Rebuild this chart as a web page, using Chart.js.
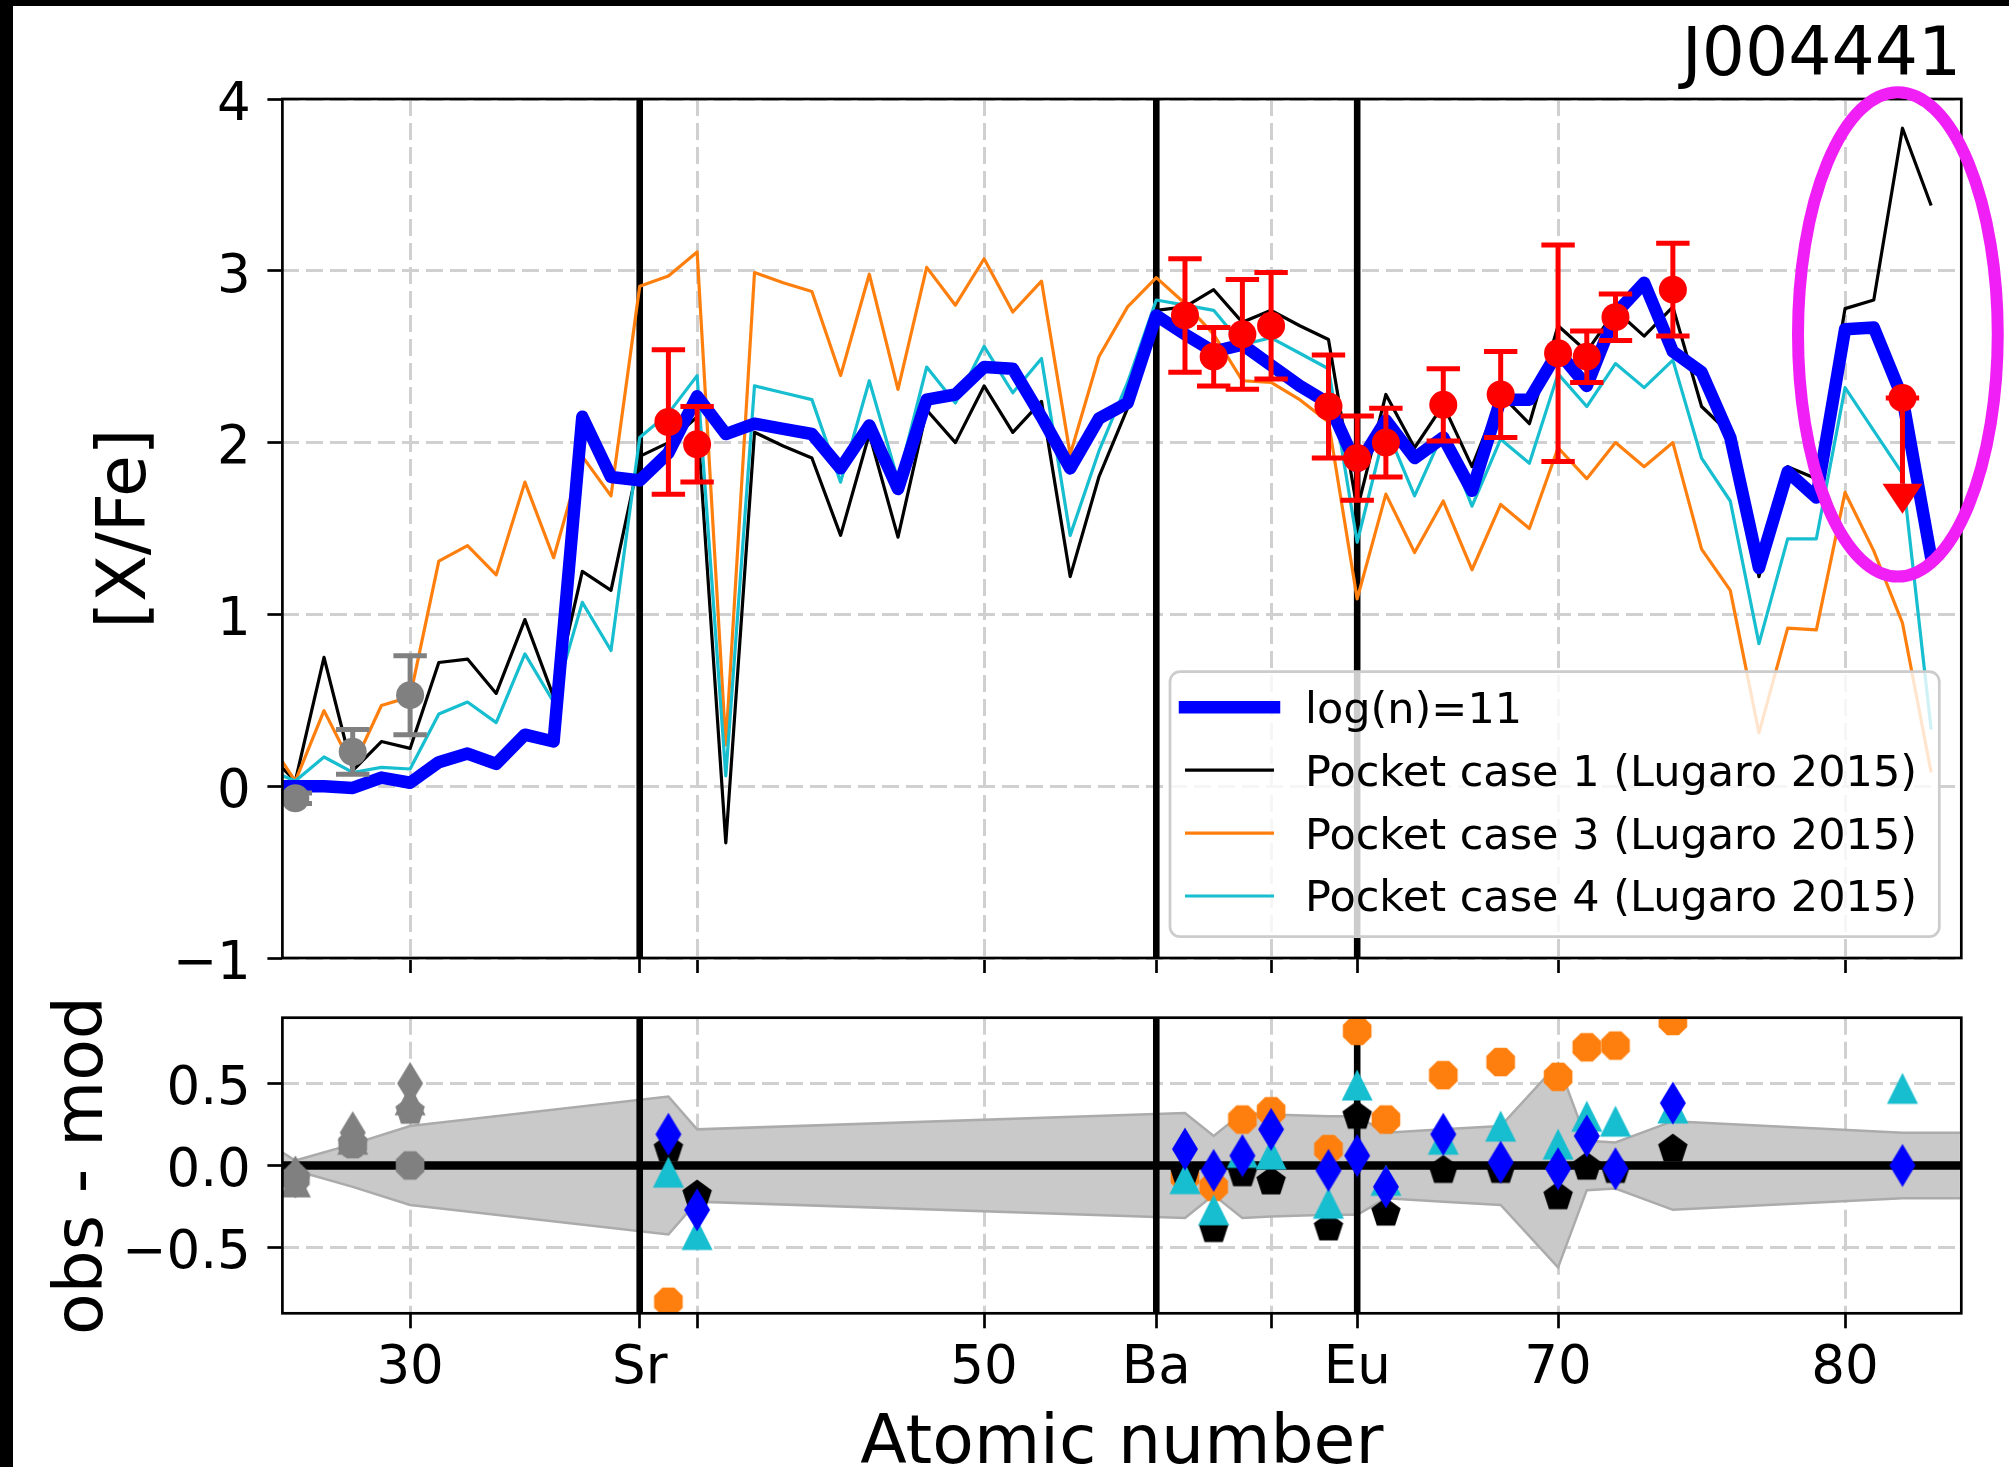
<!DOCTYPE html>
<html>
<head>
<meta charset="utf-8">
<title>J004441 abundance pattern</title>
<script src="https://cdn.jsdelivr.net/npm/chart.js@4.4.1/dist/chart.umd.min.js"></script>
<style>
  html, body { margin: 0; padding: 0; background: #fff; width: 2009px; height: 1467px; overflow: hidden; }
  .panel { position: absolute; left: 0; display: block; }
  #abundance { top: 0; }
  #residuals { top: 960px; }
  .edge { position: absolute; background: #000; z-index: 3; }
  #edgeLeft { left: 0; top: 0; width: 13px; height: 1467px; }
  #edgeTop { left: 0; top: 0; width: 2009px; height: 6px; }
</style>
</head>
<body>
<canvas id="abundance" class="panel" width="2009" height="1000"></canvas>
<canvas id="residuals" class="panel" width="2009" height="520"></canvas>
<div id="edgeLeft" class="edge"></div>
<div id="edgeTop" class="edge"></div>
<script>
// ---------------------------------------------------------------
// Model abundance patterns, [X/Fe] against atomic number
// ---------------------------------------------------------------
const modelZ = [25, 26, 27, 28, 29, 30, 31, 32, 33, 34, 35, 36, 37, 38, 39, 40, 41, 42, 43, 44,
                45, 46, 47, 48, 49, 50, 51, 52, 53, 54, 55, 56, 57, 58, 59, 60, 61, 62, 63, 64,
                65, 66, 67, 68, 69, 70, 71, 72, 73, 74, 75, 76, 77, 78, 79, 80, 81, 82, 83];

// i-process model, log(n)=11
const logN11 = [0.00, 0.00, 0.00, -0.01, 0.05, 0.02, 0.14, 0.19, 0.13, 0.30, 0.26, 2.15, 1.80, 1.78, 1.94, 2.27, 2.05, 2.11, 2.08, 2.05,
                1.85, 2.10, 1.73, 2.25, 2.28, 2.44, 2.43, 2.15, 1.85, 2.14, 2.23, 2.74, 2.63, 2.53, 2.57, 2.45, 2.33, 2.23, 1.86, 2.13,
                1.91, 2.03, 1.72, 2.25, 2.25, 2.53, 2.33, 2.75, 2.93, 2.53, 2.41, 2.03, 1.27, 1.83, 1.68, 2.66, 2.67, 2.26, 1.33];

// s-process pocket cases (Lugaro 2015)
const pocket1 = [0.20, 0.03, 0.75, 0.09, 0.26, 0.22, 0.72, 0.74, 0.54, 0.97, 0.52, 1.25, 1.14, 1.92, 2.00, 2.15, -0.33, 2.06, 1.98, 1.91,
                 1.46, 2.05, 1.45, 2.19, 2.00, 2.33, 2.06, 2.24, 1.22, 1.80, 2.20, 2.77, 2.79, 2.89, 2.70, 2.77, 2.68, 2.60, 1.61, 2.28,
                 1.97, 2.22, 1.86, 2.28, 2.11, 2.68, 2.53, 2.77, 2.62, 2.79, 2.21, 2.05, 1.22, 1.86, 1.79, 2.78, 2.83, 3.83, 3.38];
const pocket3 = [0.28, 0.03, 0.44, 0.11, 0.47, 0.52, 1.31, 1.40, 1.23, 1.77, 1.33, 1.92, 1.69, 2.91, 2.97, 3.11, 0.24, 2.99, 2.93, 2.88,
                 2.39, 2.98, 2.31, 3.02, 2.80, 3.07, 2.76, 2.94, 1.93, 2.50, 2.79, 2.96, 2.81, 2.63, 2.36, 2.35, 2.25, 2.12, 1.09, 1.70,
                 1.36, 1.66, 1.26, 1.64, 1.50, 1.97, 1.79, 2.00, 1.86, 2.00, 1.38, 1.14, 0.31, 0.92, 0.91, 1.71, 1.37, 0.95, 0.08];
const pocket4 = [0.10, 0.03, 0.17, 0.08, 0.11, 0.10, 0.42, 0.49, 0.37, 0.77, 0.49, 1.07, 0.79, 2.03, 2.17, 2.39, 0.06, 2.33, 2.29, 2.25,
                 1.77, 2.36, 1.78, 2.44, 2.23, 2.56, 2.29, 2.49, 1.46, 1.95, 2.35, 2.83, 2.80, 2.77, 2.57, 2.61, 2.52, 2.43, 1.42, 2.09,
                 1.69, 2.06, 1.63, 2.02, 1.88, 2.40, 2.21, 2.46, 2.32, 2.48, 1.91, 1.66, 0.83, 1.44, 1.44, 2.32, 2.07, 1.82, 0.33];

// Measured abundances of J004441 used in the fit
const obsZ   = [39, 40, 57, 58, 59, 60, 62, 63, 64, 66, 68, 70, 71, 72, 74];
const obsVal = [2.12, 1.99, 2.74, 2.50, 2.63, 2.68, 2.21, 1.91, 2.00, 2.22, 2.28, 2.52, 2.50, 2.73, 2.89];
const obsErr = [0.42, 0.22, 0.33, 0.17, 0.32, 0.31, 0.30, 0.245, 0.20, 0.21, 0.25, 0.63, 0.15, 0.135, 0.27];

// Iron-peak abundances, shown but not fitted
const ironZ   = [26, 28, 30];
const ironVal = [-0.07, 0.20, 0.53];
const ironErr = [0.03, 0.13, 0.23];

// Pb upper limit and the length of its arrow
const limitZ     = [82];
const limitVal   = [2.26];
const limitArrow = [0.50];

// ---------------------------------------------------------------
// Residuals, observation minus model
// ---------------------------------------------------------------
const resZ      = [26, 28, 30, 39, 40, 57, 58, 59, 60, 62, 63, 64, 66, 68, 70, 71, 72, 74, 82];
const resFitted = [false, false, false, true, true, true, true, true, true, true, true, true, true, true, true, true, true, true, true];
const resLogN11  = [-0.07, 0.20, 0.50, 0.19, -0.27, 0.10, -0.03, 0.06, 0.22, -0.03, 0.06, -0.13, 0.19, 0.02, -0.02, 0.18, -0.02, 0.38, 0.00];
const resPocket1 = [-0.09, 0.13, 0.33, 0.10, -0.18, -0.05, -0.39, -0.05, -0.10, -0.38, 0.30, -0.29, -0.03, -0.03, -0.19, -0.01, -0.03, 0.10, null];
const resPocket3 = [-0.08, 0.13, 0.00, -0.83, null, -0.07, -0.13, 0.28, 0.33, 0.10, 0.82, 0.28, 0.55, 0.63, 0.54, 0.72, 0.73, 0.88, null];
const resPocket4 = [-0.10, 0.16, 0.40, -0.04, -0.42, -0.08, -0.27, 0.08, 0.07, -0.23, 0.49, -0.09, 0.16, 0.24, 0.13, 0.30, 0.27, 0.35, 0.47];

// Observational uncertainty envelope
const bandZ   = [25, 26, 28, 30, 39, 40, 57, 58, 59, 60, 62, 63, 64, 66, 68, 70, 71, 72, 74, 82, 84];
const bandErr = [0.14, 0.03, 0.13, 0.24, 0.42, 0.22, 0.32, 0.18, 0.32, 0.31, 0.30, 0.30, 0.20, 0.22, 0.24, 0.62, 0.15, 0.14, 0.27, 0.20, 0.20];
const bandLow = bandErr.map(e => -e);

// Axis ticks
const xTickValues = [30, 38, 40, 50, 56, 60, 63, 70, 80];
const xTickLabels = ['30', 'Sr', '', '50', 'Ba', '', 'Eu', '70', '80'];
const markedZ     = [38, 56, 63];          // Sr, Ba, Eu
const yTicksTop   = [-1, 0, 1, 2, 3, 4];
const yTicksRes   = [-0.5, 0, 0.5];

// ---------------------------------------------------------------
const FONT = "'DejaVu Sans', sans-serif";
Chart.defaults.font.family = FONT;
Chart.defaults.color = '#000';

const PAGE_W = 2009;
const PLOT_LEFT = 282.4, PLOT_RIGHT = 1961.3;
const X_MIN = 25.55, X_MAX = 84.05;
const GRID = '#d0d0d0';
const GRID_DASH = [17, 7];

const pts = (xs, ys) => xs.map((x, i) => ({ x, y: ys[i] }));
const minus = s => s.replace('-', '\u2212');

function fixedAxis(size) {
  return (scale) => {
    if (scale.isHorizontal()) scale.height = size; else scale.width = size;
    scale.paddingLeft = 0; scale.paddingRight = 0; scale.paddingTop = 0; scale.paddingBottom = 0;
  };
}

function xAxis(showLabels, height, labelPad, title) {
  return {
    type: 'linear', min: X_MIN, max: X_MAX,
    afterBuildTicks: (axis) => { axis.ticks = xTickValues.map(v => ({ value: v })); },
    afterFit: fixedAxis(height),
    ticks: { display: showLabels, autoSkip: false, maxRotation: 0, minRotation: 0,
             font: { size: 53 }, padding: labelPad, callback: (v, i) => xTickLabels[i] },
    grid: { color: (c) => (c.tick && markedZ.includes(c.tick.value)) ? 'rgba(0,0,0,0)' : GRID,
            lineWidth: 3, tickLength: 15, tickColor: '#000', tickWidth: 2.7 },
    border: { display: false, dash: GRID_DASH },
    title: title || { display: false }
  };
}

function yAxis(min, max, ticks, fmt, title, titlePad) {
  return {
    min, max,
    afterBuildTicks: (axis) => { axis.ticks = ticks.map(v => ({ value: v })); },
    afterFit: fixedAxis(PLOT_LEFT),
    ticks: { font: { size: 53 }, padding: 16.6, labelOffset: 7, callback: fmt },
    grid: { color: GRID, lineWidth: 3, tickLength: 15, tickColor: '#000', tickWidth: 2.7 },
    border: { display: false, dash: GRID_DASH },
    title: { display: true, text: title, font: { size: 68 }, padding: { top: titlePad, bottom: 0 } }
  };
}

function clipArea(ctx, a) {
  ctx.beginPath();
  ctx.rect(a.left, a.top, a.right - a.left, a.bottom - a.top);
  ctx.clip();
}

// Error bars and upper-limit arrows for point datasets
const errorBars = {
  id: 'errorBars',
  beforeDatasetDraw(chart, args) {
    const ds = chart.data.datasets[args.index];
    const spec = ds.errorBars || ds.upperLimit;
    if (!spec) return;
    const { ctx, chartArea: a, scales: { x, y } } = chart;
    ctx.save();
    clipArea(ctx, a);
    ctx.strokeStyle = spec.color;
    ctx.fillStyle = spec.color;
    ctx.lineWidth = 5;
    ctx.lineCap = 'butt';
    ds.data.forEach((p, i) => {
      const e = spec.values[i];
      const px = x.getPixelForValue(p.x);
      const yHi = y.getPixelForValue(ds.upperLimit ? p.y : p.y + e);
      const yLo = y.getPixelForValue(p.y - e);
      ctx.beginPath();
      ctx.moveTo(px, yHi); ctx.lineTo(px, yLo);
      ctx.moveTo(px - 16.7, yHi); ctx.lineTo(px + 16.7, yHi);
      if (!ds.upperLimit) { ctx.moveTo(px - 16.7, yLo); ctx.lineTo(px + 16.7, yLo); }
      ctx.stroke();
      if (ds.upperLimit) {
        ctx.beginPath();
        ctx.moveTo(px - 20, yLo); ctx.lineTo(px + 20, yLo); ctx.lineTo(px, yLo + 30);
        ctx.closePath(); ctx.fill();
      }
    });
    ctx.restore();
  }
};

// Vertical markers at Sr, Ba, Eu (and the zero line of the residual panel)
function drawGuides(chart, o) {
  const { ctx, chartArea: a, scales: { x, y } } = chart;
  ctx.save();
  clipArea(ctx, a);
  ctx.strokeStyle = '#000';
  ctx.lineWidth = 6.6;
  markedZ.forEach(z => {
    const px = x.getPixelForValue(z);
    ctx.beginPath(); ctx.moveTo(px, a.top); ctx.lineTo(px, a.bottom); ctx.stroke();
  });
  if (o.zeroLine) {
    const py = y.getPixelForValue(0);
    ctx.lineWidth = 8.5;
    ctx.beginPath(); ctx.moveTo(a.left, py); ctx.lineTo(a.right, py); ctx.stroke();
  }
  ctx.restore();
}
const guides = {
  id: 'guides',
  beforeDatasetsDraw(chart, args, o) { if (!o.zeroLine) drawGuides(chart, o); },
  afterDatasetDraw(chart, args, o) {
    if (o.zeroLine && chart.data.datasets[args.index].bandEdge === 'lower') drawGuides(chart, o);
  }
};

// Axes frame
const frame = {
  id: 'frame',
  afterDatasetsDraw(chart) {
    const { ctx, chartArea: a } = chart;
    ctx.save();
    ctx.strokeStyle = '#000';
    ctx.lineWidth = 2.7;
    ctx.strokeRect(a.left, a.top, a.right - a.left, a.bottom - a.top);
    ctx.restore();
  }
};

// Framed legend inside the lower right corner of the abundance panel
const boxLegend = {
  id: 'boxLegend',
  afterDraw(chart, args, o) {
    const { ctx, chartArea: a } = chart;
    const x0 = a.right - o.marginRight - o.width;
    const y0 = a.bottom - o.marginBottom - o.height;
    ctx.save();
    ctx.beginPath();
    ctx.roundRect(x0, y0, o.width, o.height, 10);
    ctx.fillStyle = 'rgba(255,255,255,0.8)';
    ctx.fill();
    ctx.strokeStyle = '#cccccc';
    ctx.lineWidth = 2.7;
    ctx.stroke();
    ctx.font = `${o.fontSize}px ${FONT}`;
    ctx.textBaseline = 'alphabetic';
    ctx.textAlign = 'left';
    chart.data.datasets.filter(d => d.inLegend).forEach((d, i) => {
      const cy = y0 + o.firstRow + i * o.rowStep;
      ctx.strokeStyle = d.borderColor;
      ctx.lineWidth = d.borderWidth;
      ctx.lineCap = d.borderCapStyle || 'butt';
      ctx.beginPath();
      ctx.moveTo(x0 + o.handleStart, cy); ctx.lineTo(x0 + o.handleEnd, cy);
      ctx.stroke();
      ctx.fillStyle = '#000';
      ctx.fillText(d.label, x0 + o.textX, cy + o.baseline);
    });
    ctx.restore();
  }
};

// Highlight ellipse around the heaviest elements
const highlight = {
  id: 'highlight',
  afterDraw(chart, args, o) {
    const { ctx, scales: { x, y } } = chart;
    const cx = x.getPixelForValue(o.z), cy = y.getPixelForValue(o.value);
    const rx = Math.abs(x.getPixelForValue(o.z + o.dz) - cx);
    const ry = Math.abs(y.getPixelForValue(o.value + o.dv) - cy);
    ctx.save();
    ctx.strokeStyle = o.color;
    ctx.lineWidth = 12;
    ctx.beginPath();
    ctx.ellipse(cx, cy, rx, ry, 0, 0, Math.PI * 2);
    ctx.stroke();
    ctx.restore();
  }
};

// ---------------------------------------------------------------
// Abundance panel
// ---------------------------------------------------------------
const curve = (label, ys, color, width, order) => ({
  label, data: pts(modelZ, ys), showLine: true, borderColor: color, borderWidth: width,
  borderJoinStyle: 'round', borderCapStyle: width > 6 ? 'square' : 'butt',
  pointRadius: 0, order, inLegend: true
});

new Chart(document.getElementById('abundance'), {
  type: 'scatter',
  data: {
    datasets: [
      curve('log(n)=11', logN11, '#0000ff', 12.5, 3),
      curve('Pocket case 1 (Lugaro 2015)', pocket1, '#000000', 3.2, 6),
      curve('Pocket case 3 (Lugaro 2015)', pocket3, '#ff7f0e', 3.2, 5),
      curve('Pocket case 4 (Lugaro 2015)', pocket4, '#17becf', 3.2, 4),
      { label: 'Fe-peak', data: pts(ironZ, ironVal), pointRadius: 14, pointBackgroundColor: '#808080',
        pointBorderWidth: 0, order: 2, errorBars: { values: ironErr, color: '#808080' } },
      { label: 'J004441', data: pts(obsZ, obsVal), pointRadius: 14, pointBackgroundColor: '#ff0000',
        pointBorderWidth: 0, order: 1, errorBars: { values: obsErr, color: '#ff0000' } },
      { label: 'Pb limit', data: pts(limitZ, limitVal), pointRadius: 14, pointBackgroundColor: '#ff0000',
        pointBorderWidth: 0, order: 0, upperLimit: { values: limitArrow, color: '#ff0000' } }
    ]
  },
  options: {
    responsive: false, animation: false, devicePixelRatio: 1, events: [],
    layout: { padding: { left: 0, right: PAGE_W - PLOT_RIGHT, top: 0, bottom: 0 } },
    plugins: {
      legend: { display: false },
      tooltip: { enabled: false },
      title: { display: true, text: 'J004441', align: 'end', color: '#000',
               font: { size: 68, weight: 'normal', lineHeight: 1.2 }, padding: { top: 16.5, bottom: 0.9 } },
      guides: { zeroLine: false },
      boxLegend: { width: 769.3, height: 265, marginRight: 22, marginBottom: 21.3, fontSize: 43,
                   firstRow: 35.6, rowStep: 62.9, handleStart: 15, handleEnd: 104, textX: 135, baseline: 15.4 },
      highlight: { z: 81.84, value: 2.63, dz: 3.48, dv: 1.41, color: '#f01ff5' }
    },
    scales: {
      x: xAxis(false, 42, 0),
      y: yAxis(-1, 4, yTicksTop, v => minus(String(v)), '[X/Fe]', 86.5)
    }
  },
  plugins: [guides, errorBars, frame, boxLegend, highlight]
});

// ---------------------------------------------------------------
// Residual panel
// ---------------------------------------------------------------
function markerImage(shape, color) {
  const c = document.createElement('canvas');
  c.width = 48; c.height = 48;
  const g = c.getContext('2d');
  g.translate(24, 24);
  let v = [];
  if (shape === 'thinDiamond') {
    v = [[0, -21.5], [13, 0], [0, 21.5], [-13, 0]];
  } else if (shape === 'triangle') {
    v = [[0, -15.5], [15.5, 15.5], [-15.5, 15.5]];
  } else if (shape === 'pentagon') {
    for (let k = 0; k < 5; k++) { const t = -Math.PI / 2 + k * 2 * Math.PI / 5; v.push([15.5 * Math.cos(t), 15.5 * Math.sin(t)]); }
  } else if (shape === 'octagon') {
    for (let k = 0; k < 8; k++) { const t = Math.PI / 8 + k * Math.PI / 4; v.push([15.5 * Math.cos(t), 15.5 * Math.sin(t)]); }
  }
  g.beginPath();
  v.forEach(([px, py], i) => i ? g.lineTo(px, py) : g.moveTo(px, py));
  g.closePath();
  g.fillStyle = color;
  g.fill();
  return c;
}

const GREY = '#808080';
function residualSet(label, ys, shape, color, order) {
  const fitted = markerImage(shape, color), other = markerImage(shape, GREY);
  return {
    label, data: pts(resZ, ys), pointRadius: 16, order,
    pointStyle: (c) => resFitted[c.dataIndex] ? fitted : other
  };
}

new Chart(document.getElementById('residuals'), {
  type: 'scatter',
  data: {
    datasets: [
      { label: 'uncertainty +', data: pts(bandZ, bandErr), showLine: true, pointRadius: 0,
        borderColor: '#ababab', borderWidth: 2.5, fill: false, order: 11, bandEdge: 'upper' },
      { label: 'uncertainty -', data: pts(bandZ, bandLow), showLine: true, pointRadius: 0,
        borderColor: '#ababab', borderWidth: 2.5, fill: '-1', backgroundColor: '#c9c9c9', order: 10, bandEdge: 'lower' },
      residualSet('Pocket case 3 (Lugaro 2015)', resPocket3, 'octagon', '#ff7f0e', 3),
      residualSet('Pocket case 1 (Lugaro 2015)', resPocket1, 'pentagon', '#000000', 2),
      residualSet('Pocket case 4 (Lugaro 2015)', resPocket4, 'triangle', '#17becf', 1),
      residualSet('log(n)=11', resLogN11, 'thinDiamond', '#0000ff', 0)
    ]
  },
  options: {
    responsive: false, animation: false, devicePixelRatio: 1, events: [],
    layout: { padding: { left: 0, right: PAGE_W - PLOT_RIGHT, top: 57.7, bottom: 0 } },
    plugins: {
      legend: { display: false },
      tooltip: { enabled: false },
      filler: { drawTime: 'beforeDatasetsDraw' },
      guides: { zeroLine: true }
    },
    scales: {
      x: xAxis(true, 520 - 353.3, 9.1,
               { display: true, text: 'Atomic number', font: { size: 68, lineHeight: 1 }, padding: { top: 0, bottom: 0.7 } }),
      y: yAxis(-0.9, 0.9, yTicksRes, v => minus(v.toFixed(1)), 'obs - mod', 43.5)
    }
  },
  plugins: [guides, frame]
});
</script>
</body>
</html>
